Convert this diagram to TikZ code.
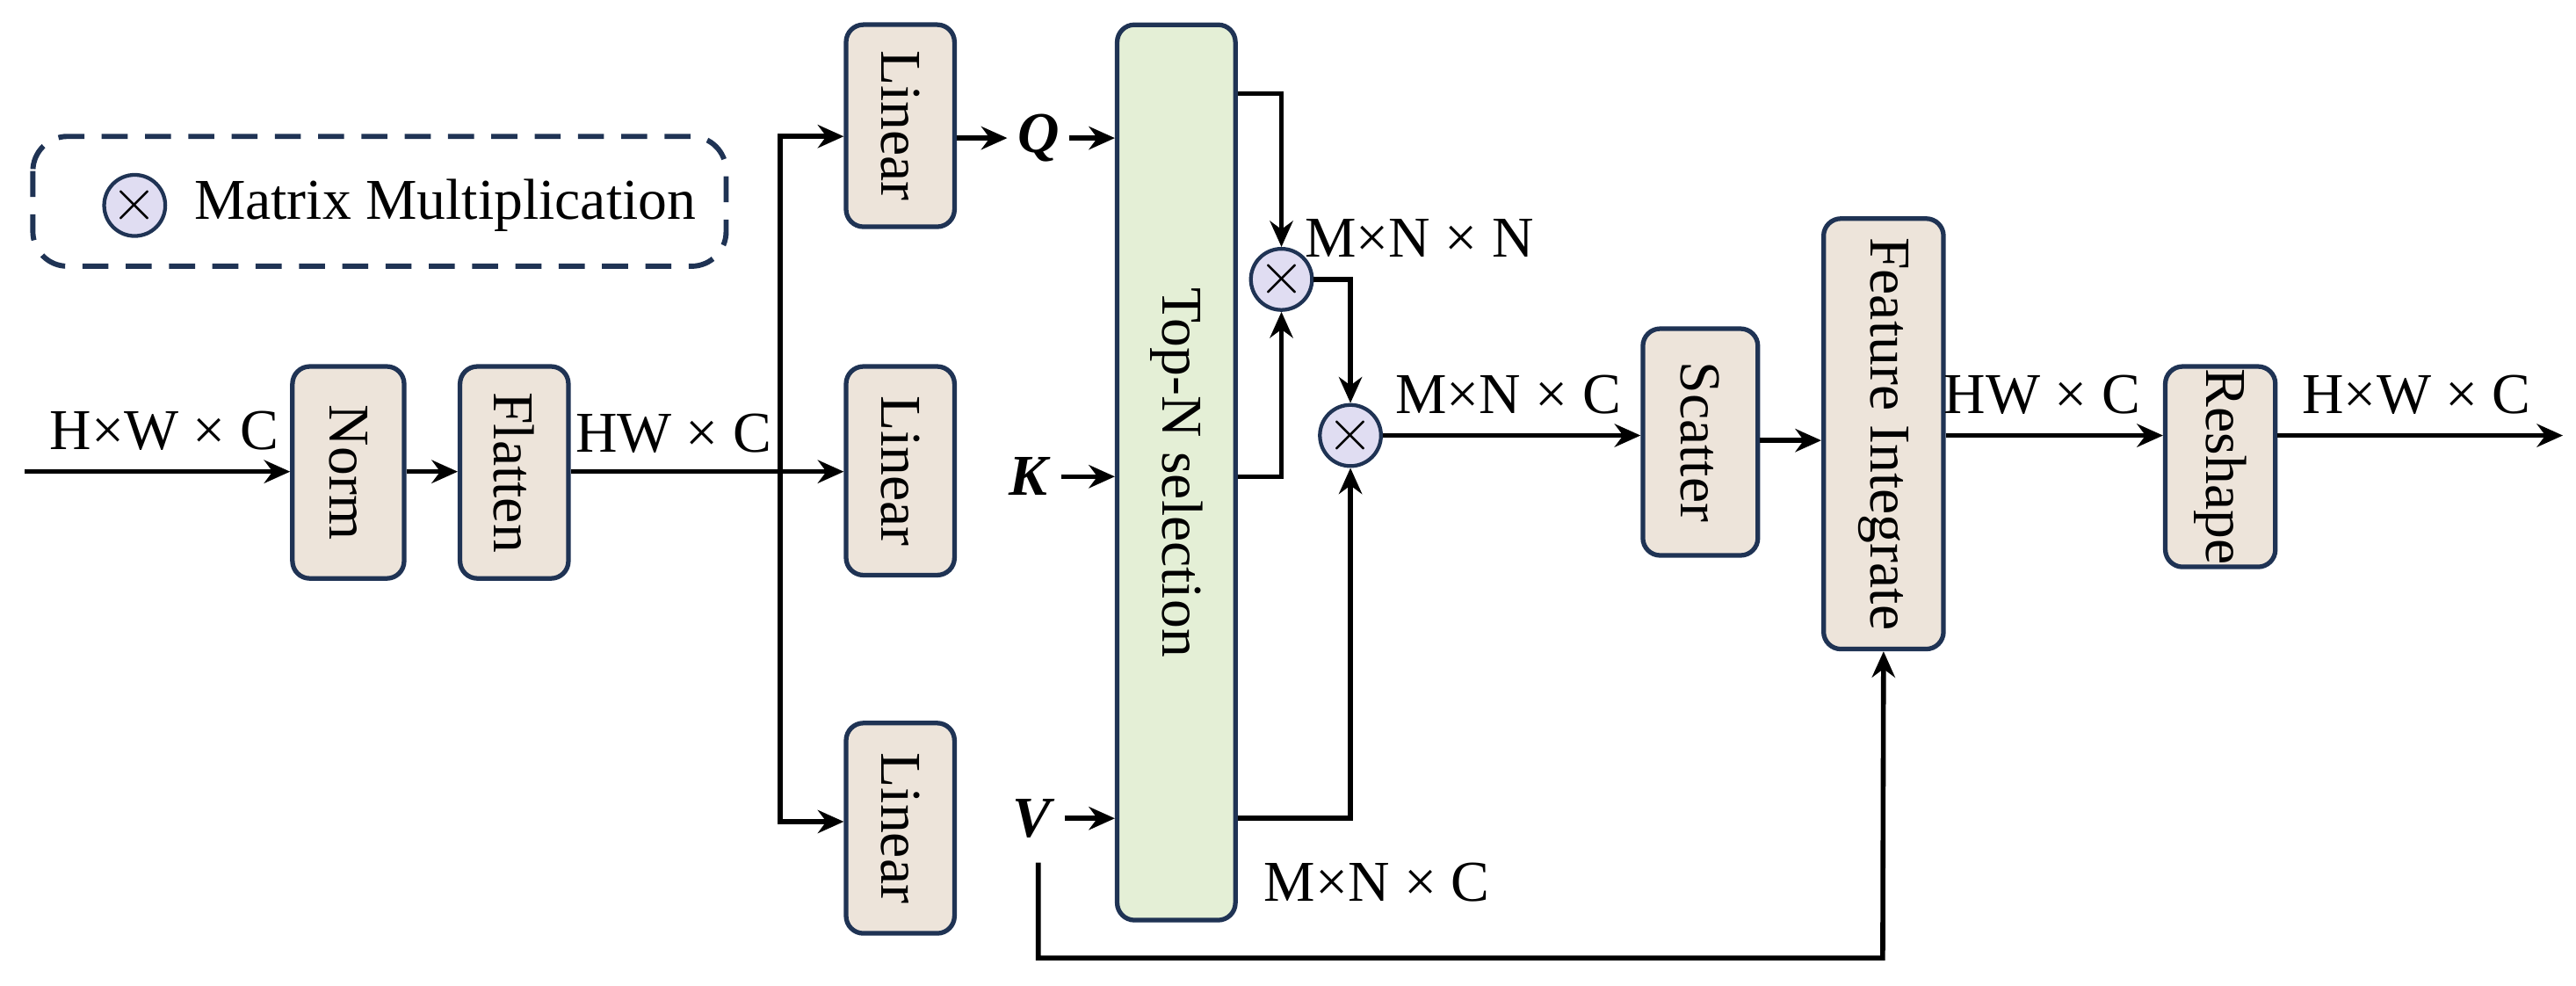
\documentclass[tikz,border=0pt]{standalone}
\usepackage{fontspec}
\setmainfont{Liberation Serif}
\usetikzlibrary{arrows.meta}
\definecolor{boxf}{HTML}{EDE4DA}
\definecolor{navy}{HTML}{1F3354}
\definecolor{grn}{HTML}{E4EFD6}
\definecolor{lav}{HTML}{E0DDF2}
\begin{document}
\begin{tikzpicture}[x=0.02cm,y=-0.02cm,
  font=\fontsize{20}{24}\selectfont,
  box/.style={draw=navy,fill=boxf,line width=1.6pt,rounded corners=6pt,inner sep=0pt},
  mul/.style={circle,draw=navy,fill=lav,line width=1.3pt,minimum size=0.72cm,inner sep=0pt},
  ar/.style={-{Stealth[length=9pt,width=8pt]},line width=1.7pt},
  ln/.style={line width=1.7pt}]
\useasboundingbox (0,0) rectangle (1568,600);
% legend
\draw[navy,line width=1.8pt,rounded corners=12pt,dash pattern=on 9pt off 6pt] (20,83) rectangle (442,162);
\node[mul,minimum size=0.6cm] (lm) at (82,125) {$\times$};
\node[anchor=west] (lt) at (112,125) {Matrix Multiplication};
% boxes
\node[box,minimum width=1.36cm,minimum height=2.58cm] (norm) at (212,287.5) {\rotatebox{-90}{Norm}};
\node[box,minimum width=1.32cm,minimum height=2.58cm] (flat) at (313,287.5) {\rotatebox{-90}{Flatten}};
\node[box,minimum width=1.32cm,minimum height=2.46cm] (l1) at (548,76.5) {\rotatebox{-90}{Linear}};
\node[box,minimum width=1.32cm,minimum height=2.54cm] (l2) at (548,286.5) {\rotatebox{-90}{Linear}};
\node[box,minimum width=1.32cm,minimum height=2.56cm] (l3) at (548,504) {\rotatebox{-90}{Linear}};
\node[box,fill=grn,minimum width=1.44cm,minimum height=10.9cm] (top) at (716,287.5) {\rotatebox{-90}{Top-N selection}};
\node[box,minimum width=1.4cm,minimum height=2.76cm] (sc) at (1035,269) {\rotatebox{-90}{Scatter}};
\node[box,minimum width=1.46cm,minimum height=5.24cm] (fi) at (1146.5,264) {\rotatebox{-90}{Feature Integrate}};
\node[box,minimum width=1.34cm,minimum height=2.44cm] (rs) at (1351.5,284) {\rotatebox{-90}{Reshape}};
\node[mul] (m1) at (780,170) {$\times$};
\node[mul] (m2) at (822,265) {$\times$};
% labels
\node (q) at (632,84) {\textbf{\textit{Q}}};
\node (k) at (627,290) {\textbf{\textit{K}}};
\node (v) at (629,498) {\textbf{\textit{V}}};
\coordinate (in) at (15,287);
\coordinate (out) at (1560,265);
\coordinate (br) at (475,287);
\node at (100,262) {H×W × C};
\node at (410,264) {HW × C};
\node at (864,145) {M×N × N};
\node at (918,240) {M×N × C};
\node at (838,537) {M×N × C};
\node at (1243,240) {HW × C};
\node at (1471,240) {H×W × C};
% connectors
\draw[ar] (in) -- (norm.west |- in);
\draw[ar] (norm.east |- in) -- (flat.west |- in);
\draw[ln] (flat.east |- in) -- (br);
\draw[ar] (br) -- (l2.west |- br);
\draw[ar] (br) |- (l1.west |- 0,83);
\draw[ar] (br) |- (l3.west |- 0,500);
\draw[ar] (l1.east |- q) -- (q.west);
\draw[ar] (q.east) -- (top.west |- q);
\draw[ar] (k.east) -- (top.west |- k);
\draw[ar] (v.east) -- (top.west |- v);
\draw[ar] (top.east |- 0,57) -| (m1.north);
\draw[ar] (top.east |- 0,290) -| (m1.south);
\draw[ar] (m1.east) -| (m2.north);
\draw[ar] (top.east |- 0,498) -| (m2.south);
\draw[ar] (m2.east) -- (sc.west |- m2);
\draw[ar] (sc.east |- 0,268) -- (fi.west |- 0,268);
\draw[ar] (fi.east |- 0,265) -- (rs.west |- 0,265);
\draw[ar] (rs.east |- out) -- (out);
\draw[ar] (632,525) |- (1146,583) -- (fi.south);
\end{tikzpicture}
\end{document}
